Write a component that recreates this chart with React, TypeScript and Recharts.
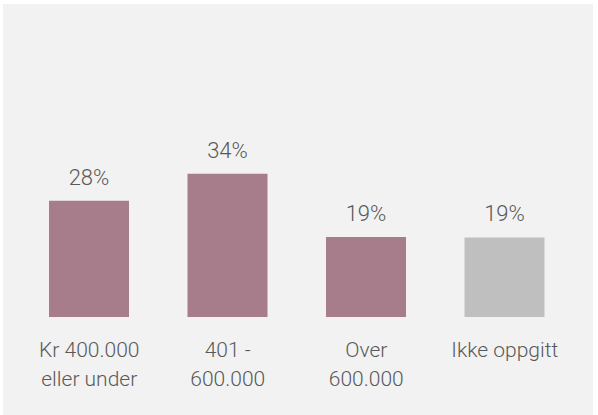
import React from "react";
import { BarChart, Bar, XAxis, YAxis, Cell, LabelList } from "recharts";

const categories = ["Kr 400.000\neller under", "401 -\n600.000", "Over\n600.000", "Ikke oppgitt"];
const values = [27.6, 34.0, 19.0, 18.9];
const colors = ["#a77d8b", "#a77d8b", "#a77d8b", "#bfbfbf"];

const data = categories.map((c, i) => ({ name: c, value: values[i] }));

const FONT = "Roboto, 'DejaVu Sans', sans-serif";

const Tick = (props: any) => {
  const { x, y, payload } = props;
  const lines = String(payload.value).split("\n");
  return (
    <text x={x} y={y} textAnchor="middle" fill="#595959" fontFamily={FONT} fontSize={21} fontWeight={300}>
      {lines.map((l, i) => (
        <tspan key={i} x={x} dy={i === 0 ? 32 : 29}>
          {l}
        </tspan>
      ))}
    </text>
  );
};

export default function App() {
  return (
    <div style={{ position: "absolute", left: 0, top: 0, width: 598, height: 415, background: "#ffffff" }}>
      <div style={{ position: "absolute", left: 3, top: 4, width: 590, height: 411, background: "#f2f2f2" }} />
      <div style={{ position: "absolute", left: 0, top: 0 }}>
        <BarChart width={598} height={415} data={data} margin={{ top: 148.6, right: 24, bottom: 68, left: 20 }}>
          <YAxis hide domain={[0, 40]} />
          <XAxis dataKey="name" height={30} axisLine={false} tickLine={false} tick={<Tick />} interval={0} />
          <Bar dataKey="value" barSize={80} isAnimationActive={false}>
            {data.map((d, i) => (
              <Cell key={i} fill={colors[i]} />
            ))}
            <LabelList
              dataKey="value"
              position="top"
              offset={16}
              formatter={(v: any) => `${Math.round(Number(v))}%`}
              style={{ fill: "#595959", fontFamily: FONT, fontSize: 22, fontWeight: 300 }}
            />
          </Bar>
        </BarChart>
      </div>
    </div>
  );
}
